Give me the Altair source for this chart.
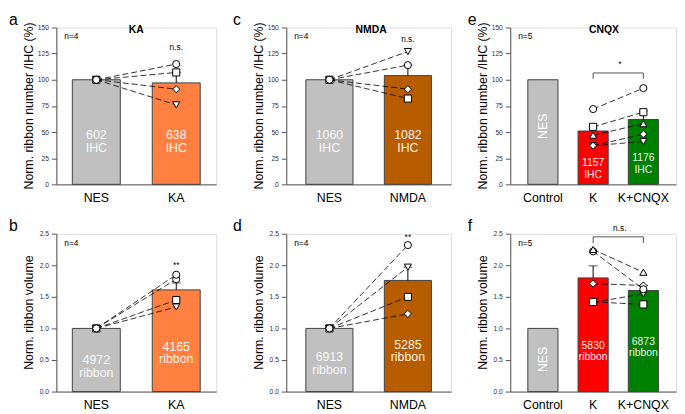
import altair as alt
import pandas as pd

FONT = "Liberation Sans"

# ---------------- data ----------------
# panel a: ribbon number, KA
a_cats = ["NES", "KA"]
a_bars = [100, 97]
a_err_top = [None, 107]
a_shapes = ["square", "diamond", "triangle-down", "circle"]
a_ctrl = [100, 100, 100, 100]
a_treat = [107, 91, 76, 115]
a_count_num = ["602", "638"]
a_count_unit = ["IHC", "IHC"]

# panel c: ribbon number, NMDA
c_cats = ["NES", "NMDA"]
c_bars = [100, 104]
c_err_top = [None, 114]
c_shapes = ["triangle-down", "diamond", "square", "circle"]
c_ctrl = [100, 100, 100, 100]
c_treat = [127, 91, 82, 114]
c_count_num = ["1060", "1082"]
c_count_unit = ["IHC", "IHC"]

# panel e: ribbon number, CNQX
e_cats = ["Control", "K", "K+CNQX"]
e_bars = [100, 51, 62]
e_err_top = [None, 56, 70]
e_shapes = ["triangle-down", "diamond", "triangle-up", "square", "circle"]
e_k = [37, 37, 47, 55, 72]
e_kcnqx = [41, 48, 58, 69, 92]
e_count_num = ["1157", "1176"]
e_count_unit = ["IHC", "IHC"]

# panel b: ribbon volume, KA
b_cats = ["NES", "KA"]
b_bars = [1.0, 1.61]
b_err_top = [None, 1.72]
b_shapes = ["triangle-down", "square", "circle", "circle"]
b_ctrl = [1.0, 1.0, 1.0, 1.0]
b_treat = [1.34, 1.45, 1.78, 1.85]
b_count_num = ["4972", "4165"]
b_count_unit = ["ribbon", "ribbon"]

# panel d: ribbon volume, NMDA
d_cats = ["NES", "NMDA"]
d_bars = [1.0, 1.76]
d_err_top = [None, 1.97]
d_shapes = ["diamond", "square", "triangle-down", "circle"]
d_ctrl = [1.0, 1.0, 1.0, 1.0]
d_treat = [1.23, 1.50, 1.97, 2.32]
d_count_num = ["6913", "5285"]
d_count_unit = ["ribbon", "ribbon"]

# panel f: ribbon volume, CNQX
f_cats = ["Control", "K", "K+CNQX"]
f_bars = [1.0, 1.80, 1.60]
f_err_top = [None, 1.99, 1.68]
f_shapes = ["triangle-down", "square", "diamond", "circle", "triangle-up"]
f_k = [1.41, 1.42, 1.71, 2.22, 2.25]
f_kcnqx = [1.55, 1.38, 1.68, 1.62, 1.89]
f_count_num = ["5830", "6873"]
f_count_unit = ["ribbon", "ribbon"]

GRAY = "#c0c0c0"
ORANGE = "#ff8040"
BROWN = "#b85c00"
RED = "#ff0000"
GREEN = "#008000"


def panel(letter, letter_dx, name, name_x, cats, bars, err_top, colors,
          pair, shapes, v1, v2, cnt_cats, cnt_num, cnt_unit, num_y, unit_y, count_size,
          rot_label, rot_y,
          n_text, sig_text, sig_cat, sig_y, sig_dx, bracket,
          ydomain, yticks, yfmt, ytitle, width, height, pad_outer):
    xs = alt.Scale(domain=cats, paddingInner=0.4, paddingOuter=pad_outer)
    xax = alt.Axis(title=None, labelAngle=0, labelFontSize=12.5, labelColor="black",
                   ticks=False, labelPadding=7, domainColor="#555555", labelFont=FONT)
    yax = alt.Axis(values=yticks, format=yfmt, labelFontSize=6.8, labelColor="#333333",
                   tickSize=5, tickColor="#555555", domainColor="#555555", grid=False,
                   title=None, labelPadding=3, labelFont=FONT)
    ys = alt.Scale(domain=ydomain, nice=False, zero=True)
    X = alt.X("c:N", scale=xs, axis=xax, sort=cats)
    Y = alt.Y("v:Q", scale=ys, axis=yax)

    bar_df = pd.DataFrame({"c": cats, "v": bars, "col": colors})
    bar = alt.Chart(bar_df).mark_bar(stroke="#404040", strokeWidth=1).encode(
        x=X, y=Y, color=alt.Color("col:N", scale=None))

    err_df = pd.DataFrame({"c": [c for c, e in zip(cats, err_top) if e is not None],
                           "v": [b for b, e in zip(bars, err_top) if e is not None],
                           "e": [e for e in err_top if e is not None]})
    err = alt.Chart(err_df).mark_rule(color="black", strokeWidth=1).encode(
        x=X, y=Y, y2="e:Q")
    cap_df = pd.DataFrame({"c": err_df["c"], "v": err_df["e"]})
    cap = alt.Chart(cap_df).mark_tick(color="black", thickness=1, size=9).encode(
        x=X, y=Y)

    rows = []
    for i, (s, a, b) in enumerate(zip(shapes, v1, v2)):
        rows.append({"c": pair[0], "v": a, "s": s, "id": i})
        rows.append({"c": pair[1], "v": b, "s": s, "id": i})
    pts_df = pd.DataFrame(rows)
    lines = alt.Chart(pts_df).mark_line(color="black", strokeWidth=0.8,
                                        strokeDash=[6, 3]).encode(
        x=X, y=Y, detail="id:N")
    pts = alt.Chart(pts_df).mark_point(filled=True, fill="white", stroke="black",
                                       strokeWidth=1, size=52, opacity=1).encode(
        x=X, y=Y, shape=alt.Shape("s:N", scale=None), order=alt.Order("id:Q"))

    layers = [bar, err, cap, lines, pts]

    num_df = pd.DataFrame({"c": cnt_cats, "v": num_y, "t": cnt_num})
    unit_df = pd.DataFrame({"c": cnt_cats, "v": unit_y, "t": cnt_unit})
    for df in (num_df, unit_df):
        layers.append(alt.Chart(df).mark_text(
            color="white", fontSize=count_size, font=FONT, baseline="middle",
            opacity=0.92).encode(x=X, y=Y, text="t:N"))
    if rot_label:
        rot_df = pd.DataFrame({"c": [cats[0]], "v": [rot_y], "t": [rot_label]})
        layers.append(alt.Chart(rot_df).mark_text(
            color="white", fontSize=12.5, angle=270, font=FONT,
            baseline="middle").encode(x=X, y=Y, text="t:N"))

    ytl = alt.Chart(pd.DataFrame({"t": [ytitle]})).mark_text(
        fontSize=12.5, angle=270, align="center", baseline="middle", font=FONT,
        color="black").encode(x=alt.value(-28), y=alt.value(height / 2), text="t:N")
    ntxt = alt.Chart(pd.DataFrame({"t": [n_text]})).mark_text(
        fontSize=8.5, align="left", baseline="middle", font=FONT, color="black").encode(
        x=alt.value(8), y=alt.value(9), text="t:N")
    sig = alt.Chart(pd.DataFrame({"c": [sig_cat], "v": [sig_y], "t": [sig_text]})).mark_text(
        fontSize=8.5, align="center", baseline="middle", font=FONT, color="black",
        dx=sig_dx).encode(x=X, y=Y, text="t:N")
    let = alt.Chart(pd.DataFrame({"t": [letter]})).mark_text(
        fontSize=16, align="left", baseline="alphabetic", font=FONT, color="black").encode(
        x=alt.value(letter_dx), y=alt.value(-3), text="t:N")
    layers += [ytl, ntxt, sig, let]
    if name:
        ttl = alt.Chart(pd.DataFrame({"t": [name]})).mark_text(
            fontSize=10.5, fontWeight="bold", align="center", baseline="middle",
            font=FONT, color="black").encode(x=alt.value(name_x), y=alt.value(3), text="t:N")
        layers += [ttl]

    if bracket is not None:
        (c1, c2, top, bottom) = bracket
        br_df = pd.DataFrame({"c": [c1], "c2": [c2], "v": [top]})
        hb = alt.Chart(br_df).mark_rule(color="#555555", strokeWidth=1).encode(
            x=X, x2="c2:N", y=Y)
        vb_df = pd.DataFrame({"c": [c1, c2], "v": [bottom, bottom], "e": [top, top]})
        vb = alt.Chart(vb_df).mark_rule(color="#555555", strokeWidth=1).encode(
            x=X, y=Y, y2="e:Q")
        layers += [hb, vb]

    return alt.layer(*layers).properties(width=width, height=height)


num_ticks = [0, 25, 50, 75, 100, 125, 150]
vol_ticks = [0.0, 0.5, 1.0, 1.5, 2.0, 2.5]
T1 = "Norm. ribbon number /IHC (%)"
T2 = "Norm. ribbon volume"
H1, H2 = 159, 160

pa = panel("a", -48, "KA", 81, a_cats, a_bars, a_err_top, [GRAY, ORANGE], a_cats,
           a_shapes, a_ctrl, a_treat, a_cats, a_count_num, a_count_unit,
           [47.5, 47.5], [34.5, 34.5], 12.5, None, None,
           "n=4", "n.s.", "KA", 131, 0, None,
           [0, 150], num_ticks, "d", T1, 162, H1, 0.2)
pc = panel("c", -54, "NMDA", 86, c_cats, c_bars, c_err_top, [GRAY, BROWN], c_cats,
           c_shapes, c_ctrl, c_treat, c_cats, c_count_num, c_count_unit,
           [47.5, 47.5], [34.5, 34.5], 12.5, None, None,
           "n=4", "n.s.", "NMDA", 139, 0, None,
           [0, 150], num_ticks, "d", T1, 167, H1, 0.25)
pe = panel("e", -43, "CNQX", 95, e_cats, e_bars, e_err_top, [GRAY, RED, GREEN],
           ["K", "K+CNQX"], e_shapes, e_k, e_kcnqx, ["K", "K+CNQX"],
           e_count_num, e_count_unit, [20.5, 25.5], [8.5, 13.5], 10.5, "NES", 55.5,
           "n=5", "*", "K", 115, 27, ("K", "K+CNQX", 106.5, 101),
           [0, 150], num_ticks, "d", T1, 168, H1, 0.35)
pb = panel("b", -48, "", 81, b_cats, b_bars, b_err_top, [GRAY, ORANGE], b_cats,
           b_shapes, b_ctrl, b_treat, b_cats, b_count_num, b_count_unit,
           [0.50, 0.71], [0.30, 0.51], 12.5, None, None,
           "n=4", "**", "KA", 2.01, 0, None,
           [0, 2.5], vol_ticks, ".1f", T2, 162, H2, 0.2)
pd_ = panel("d", -54, "", 86, d_cats, d_bars, d_err_top, [GRAY, BROWN], d_cats,
            d_shapes, d_ctrl, d_treat, d_cats, d_count_num, d_count_unit,
            [0.54, 0.74], [0.34, 0.54], 12.5, None, None,
            "n=4", "**", "NMDA", 2.45, 0, None,
            [0, 2.5], vol_ticks, ".1f", T2, 167, H2, 0.25)
pf = panel("f", -43, "", 95, f_cats, f_bars, f_err_top, [GRAY, RED, GREEN],
           ["K", "K+CNQX"], f_shapes, f_k, f_kcnqx, ["K", "K+CNQX"],
           f_count_num, f_count_unit, [0.72, 0.79], [0.54, 0.61], 10.5, "NES", 0.51,
           "n=5", "n.s.", "K", 2.59, 27, ("K", "K+CNQX", 2.45, 2.35),
           [0, 2.5], vol_ticks, ".1f", T2, 168, H2, 0.35)

chart = alt.concat(pa, pc, pe, pb, pd_, pf, columns=3,
                   spacing={"row": 13, "column": 15}, align="each").properties(
    padding=0
).configure_view(strokeWidth=0).configure(font=FONT)

chart.save("out.html", embed_options={"renderer": "svg", "actions": False})
